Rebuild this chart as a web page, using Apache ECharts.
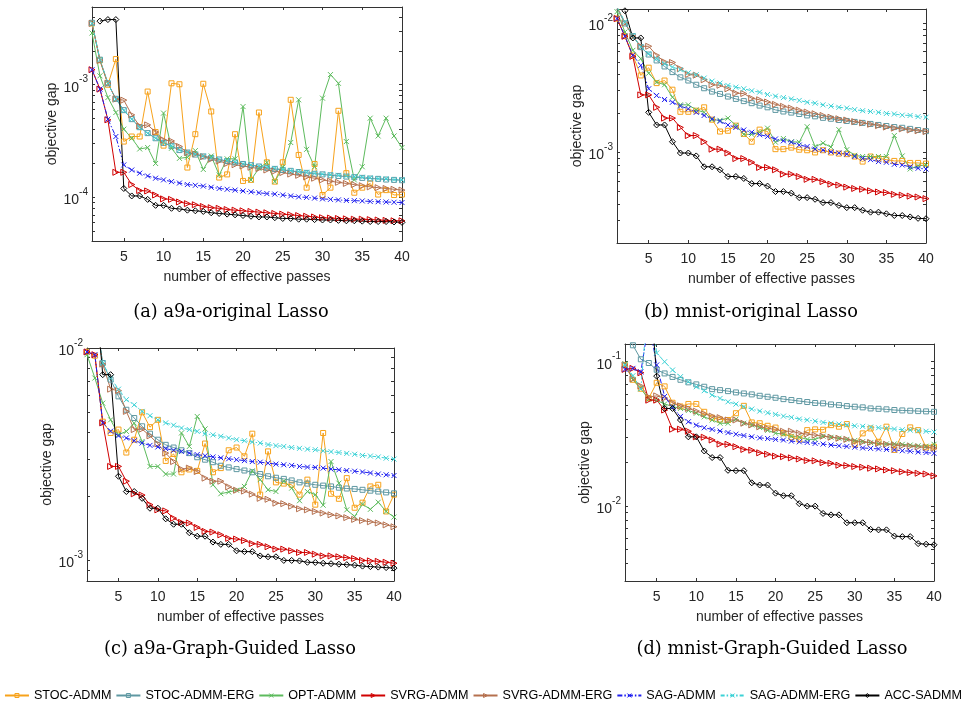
<!DOCTYPE html>
<html><head><meta charset="utf-8">
<script src="https://cdn.jsdelivr.net/npm/echarts@6/dist/echarts.min.js"></script>
<style>html,body{margin:0;padding:0;background:#fff}#c{width:966px;height:704px}</style>
</head><body><div id="c"></div><script>
const passes = [1,2,3,4,5,6,7,8,9,10,11,12,13,14,15,16,17,18,19,20,21,22,23,24,25,26,27,28,29,30,31,32,33,34,35,36,37,38,39,40];
const methodNames = ['STOC-ADMM','STOC-ADMM-ERG','OPT-ADMM','SVRG-ADMM','SVRG-ADMM-ERG','SAG-ADMM','SAG-ADMM-ERG','ACC-SADMM'];
const xTickValues = [5,10,15,20,25,30,35,40];
const captionTexts = ['(a) a9a-original Lasso','(b) mnist-original Lasso','(c) a9a-Graph-Guided Lasso','(d) mnist-Graph-Guided Lasso'];

// (a) a9a-original Lasso
const aYTicks = [5e-5,6e-5,7e-5,8e-5,9e-5,1e-4,2e-4,3e-4,4e-4,5e-4,6e-4,7e-4,8e-4,9e-4,1e-3,2e-3,3e-3,4e-3];
const aYLabels = [1e-4,1e-3];
const aSTOC = [3.5e-3,1.65e-3,1.0e-3,1.69e-3,3.13e-4,3.47e-4,3.47e-4,8.7e-4,3.8e-4,2.88e-4,1.03e-3,1.01e-3,1.84e-4,3.64e-4,1.02e-3,5.79e-4,1.5e-4,1.6e-4,3.64e-4,1.4e-4,1.43e-4,5.67e-4,2.05e-4,1.38e-4,2.05e-4,7.35e-4,2.38e-4,1.22e-4,1.98e-4,1.05e-4,1.22e-4,5.87e-4,1.64e-4,1.1e-4,1.22e-4,1.33e-4,1.06e-4,1.16e-4,1.05e-4,1.06e-4];
const aSTOCERG = [3.55e-3,1.67e-3,1.03e-3,7.5e-4,5.95e-4,4.95e-4,4.2e-4,3.72e-4,3.35e-4,3.05e-4,2.85e-4,2.63e-4,2.5e-4,2.4e-4,2.31e-4,2.24e-4,2.17e-4,2.1e-4,2.04e-4,1.98e-4,1.93e-4,1.88e-4,1.83e-4,1.79e-4,1.75e-4,1.72e-4,1.68e-4,1.65e-4,1.62e-4,1.6e-4,1.57e-4,1.55e-4,1.53e-4,1.51e-4,1.49e-4,1.47e-4,1.46e-4,1.44e-4,1.43e-4,1.42e-4];
const aOPT = [2.88e-3,1.2e-3,7.7e-4,5.67e-4,4.03e-4,3.35e-4,2.69e-4,2.77e-4,2.0e-4,5.6e-4,2.73e-4,2.22e-4,2.27e-4,2.6e-4,1.77e-4,2.33e-4,1.58e-4,2.2e-4,2.2e-4,6.4e-4,1.43e-4,1.81e-4,2.04e-4,1.38e-4,1.85e-4,3.07e-4,7.35e-4,2.67e-4,1.87e-4,7.6e-4,1.23e-3,1.03e-3,3.13e-4,1.43e-4,1.87e-4,5.05e-4,3.51e-4,5.05e-4,3.51e-4,2.77e-4];
const aSVRG = [1.36e-3,9.15e-4,4.88e-4,1.67e-4,1.67e-4,1.3e-4,1.15e-4,1.14e-4,1.05e-4,9.7e-5,9.6e-5,9.1e-5,8.8e-5,8.6e-5,8.3e-5,8.1e-5,8.0e-5,7.8e-5,7.7e-5,7.6e-5,7.5e-5,7.4e-5,7.3e-5,7.2e-5,7.1e-5,7.0e-5,6.9e-5,6.8e-5,6.7e-5,6.6e-5,6.55e-5,6.5e-5,6.45e-5,6.4e-5,6.4e-5,6.35e-5,6.3e-5,6.25e-5,6.2e-5,6.2e-5];
const aSVRGERG = [3.5e-3,1.64e-3,1.03e-3,7.45e-4,7.3e-4,5.4e-4,4.3e-4,4.4e-4,3.8e-4,3.24e-4,3.17e-4,2.83e-4,2.5e-4,2.43e-4,2.3e-4,2.18e-4,2.1e-4,2.0e-4,1.95e-4,1.9e-4,1.85e-4,1.8e-4,1.75e-4,1.71e-4,1.66e-4,1.61e-4,1.57e-4,1.52e-4,1.48e-4,1.43e-4,1.39e-4,1.36e-4,1.33e-4,1.3e-4,1.27e-4,1.24e-4,1.22e-4,1.2e-4,1.18e-4,1.16e-4];
const aSAG = [1.36e-3,9.15e-4,4.95e-4,3.47e-4,1.94e-4,1.75e-4,1.64e-4,1.55e-4,1.48e-4,1.43e-4,1.38e-4,1.34e-4,1.3e-4,1.28e-4,1.26e-4,1.23e-4,1.2e-4,1.18e-4,1.16e-4,1.14e-4,1.12e-4,1.1e-4,1.08e-4,1.07e-4,1.05e-4,1.03e-4,1.01e-4,1.0e-4,9.85e-5,9.7e-5,9.6e-5,9.5e-5,9.4e-5,9.35e-5,9.3e-5,9.2e-5,9.15e-5,9.1e-5,9.05e-5,9.0e-5];
const aSAGERG = [3.5e-3,1.67e-3,1.03e-3,7.45e-4,5.9e-4,4.95e-4,4.17e-4,3.7e-4,3.35e-4,3.07e-4,2.87e-4,2.64e-4,2.52e-4,2.42e-4,2.33e-4,2.25e-4,2.18e-4,2.12e-4,2.05e-4,1.99e-4,1.94e-4,1.89e-4,1.85e-4,1.81e-4,1.77e-4,1.73e-4,1.7e-4,1.67e-4,1.64e-4,1.61e-4,1.59e-4,1.57e-4,1.55e-4,1.53e-4,1.51e-4,1.49e-4,1.47e-4,1.46e-4,1.44e-4,1.43e-4];
const aACC = [null,3.67e-3,3.79e-3,3.79e-3,1.2e-4,1.03e-4,1.03e-4,9.6e-5,8.5e-5,8.5e-5,8.0e-5,7.9e-5,7.7e-5,7.6e-5,7.5e-5,7.3e-5,7.2e-5,7.1e-5,7.0e-5,6.9e-5,6.8e-5,6.7e-5,6.7e-5,6.6e-5,6.5e-5,6.5e-5,6.4e-5,6.4e-5,6.35e-5,6.3e-5,6.3e-5,6.25e-5,6.2e-5,6.2e-5,6.15e-5,6.1e-5,6.1e-5,6.1e-5,6.05e-5,6.0e-5];

// (b) mnist-original Lasso
const bYTicks = [3e-4,4e-4,5e-4,6e-4,7e-4,8e-4,9e-4,1e-3,2e-3,3e-3,4e-3,5e-3,6e-3,7e-3,8e-3,9e-3,1e-2];
const bYLabels = [1e-3,1e-2];
const bSTOC = [1.08e-2,7.9e-3,5.6e-3,3.93e-3,4.51e-3,3.43e-3,3.59e-3,3.05e-3,2.06e-3,2.06e-3,2.1e-3,2.23e-3,1.79e-3,1.45e-3,1.47e-3,1.61e-3,1.39e-3,1.21e-3,1.5e-3,1.45e-3,1.06e-3,1.06e-3,1.09e-3,1.05e-3,1.04e-3,1.0e-3,1.04e-3,1.0e-3,9.8e-4,9.7e-4,9.3e-4,8.5e-4,9.3e-4,9.0e-4,8.8e-4,8.6e-4,8.6e-4,8.3e-4,8.3e-4,8.2e-4];
const bSTOCERG = [1.3e-2,9.9e-3,7.9e-3,6.5e-3,5.7e-3,5.13e-3,4.61e-3,4.17e-3,3.8e-3,3.59e-3,3.33e-3,3.13e-3,2.95e-3,2.83e-3,2.7e-3,2.59e-3,2.49e-3,2.4e-3,2.3e-3,2.23e-3,2.13e-3,2.07e-3,2.03e-3,1.98e-3,1.93e-3,1.9e-3,1.85e-3,1.82e-3,1.78e-3,1.75e-3,1.72e-3,1.69e-3,1.66e-3,1.63e-3,1.6e-3,1.57e-3,1.55e-3,1.52e-3,1.49e-3,1.46e-3];
const bOPT = [1.22e-2,8.5e-3,6.14e-3,5.29e-3,4.09e-3,3.49e-3,3.33e-3,2.67e-3,2.33e-3,2.33e-3,2.13e-3,2.04e-3,1.79e-3,1.77e-3,1.84e-3,1.62e-3,1.38e-3,1.38e-3,1.43e-3,1.54e-3,1.2e-3,1.28e-3,1.21e-3,1.2e-3,1.58e-3,1.11e-3,1.18e-3,1.1e-3,1.5e-3,1.05e-3,9.5e-4,9.3e-4,9.3e-4,9.3e-4,9.3e-4,1.35e-3,9.4e-4,7.45e-4,7.9e-4,8.0e-4];
const bSVRG = [1.08e-2,7.88e-3,5.52e-3,2.78e-3,2.78e-3,2.23e-3,1.84e-3,1.84e-3,1.56e-3,1.35e-3,1.35e-3,1.21e-3,1.06e-3,1.06e-3,9.9e-4,8.97e-4,8.97e-4,8.4e-4,7.66e-4,7.66e-4,7.35e-4,6.8e-4,6.8e-4,6.52e-4,6.2e-4,6.2e-4,5.96e-4,5.69e-4,5.6e-4,5.4e-4,5.27e-4,5.2e-4,5.06e-4,4.95e-4,4.9e-4,4.75e-4,4.68e-4,4.6e-4,4.53e-4,4.4e-4];
const bSVRGERG = [1.33e-2,1.0e-2,7.9e-3,6.6e-3,6.6e-3,5.62e-3,5.0e-3,4.95e-3,4.43e-3,4.0e-3,3.95e-3,3.64e-3,3.33e-3,3.3e-3,3.1e-3,2.87e-3,2.85e-3,2.62e-3,2.55e-3,2.45e-3,2.35e-3,2.27e-3,2.2e-3,2.12e-3,2.05e-3,1.99e-3,1.93e-3,1.87e-3,1.82e-3,1.78e-3,1.73e-3,1.69e-3,1.65e-3,1.61e-3,1.57e-3,1.54e-3,1.52e-3,1.49e-3,1.47e-3,1.45e-3];
const bSAG = [1.08e-2,7.88e-3,5.62e-3,4.7e-3,3.1e-3,2.75e-3,2.56e-3,2.44e-3,2.28e-3,2.17e-3,2.04e-3,1.93e-3,1.82e-3,1.74e-3,1.63e-3,1.56e-3,1.49e-3,1.43e-3,1.37e-3,1.33e-3,1.27e-3,1.23e-3,1.2e-3,1.14e-3,1.11e-3,1.06e-3,1.04e-3,1.01e-3,9.9e-4,9.7e-4,9.3e-4,9.0e-4,8.8e-4,8.5e-4,8.4e-4,8.1e-4,8.0e-4,7.75e-4,7.55e-4,7.45e-4];
const bSAGERG = [1.33e-2,1.02e-2,8.0e-3,6.52e-3,5.78e-3,5.29e-3,4.84e-3,4.56e-3,4.35e-3,4.12e-3,3.98e-3,3.75e-3,3.55e-3,3.43e-3,3.29e-3,3.19e-3,3.1e-3,2.99e-3,2.92e-3,2.8e-3,2.72e-3,2.65e-3,2.59e-3,2.52e-3,2.44e-3,2.4e-3,2.33e-3,2.28e-3,2.23e-3,2.2e-3,2.14e-3,2.1e-3,2.07e-3,2.04e-3,2.0e-3,1.98e-3,1.94e-3,1.93e-3,1.89e-3,1.87e-3];
const bACC = [null,1.24e-2,7.65e-3,7.65e-3,2.04e-3,1.63e-3,1.63e-3,1.21e-3,9.9e-4,9.9e-4,9.4e-4,7.75e-4,7.75e-4,7.35e-4,6.52e-4,6.52e-4,6.3e-4,5.75e-4,5.75e-4,5.5e-4,4.99e-4,4.99e-4,4.85e-4,4.48e-4,4.48e-4,4.35e-4,4.1e-4,4.1e-4,3.9e-4,3.75e-4,3.75e-4,3.58e-4,3.46e-4,3.46e-4,3.36e-4,3.26e-4,3.26e-4,3.18e-4,3.1e-4,3.08e-4];

// (c) a9a-Graph-Guided Lasso
const cYTicks = [9e-4,1e-3,2e-3,3e-3,4e-3,5e-3,6e-3,7e-3,8e-3,9e-3,1e-2];
const cYLabels = [1e-3,1e-2];
const cSTOC = [9.6e-3,9.2e-3,4.5e-3,3.98e-3,4.13e-3,3.22e-3,3.7e-3,4.98e-3,4.24e-3,4.59e-3,2.94e-3,3.17e-3,2.6e-3,2.68e-3,2.64e-3,3.55e-3,2.6e-3,2.72e-3,3.3e-3,3.4e-3,3.09e-3,3.95e-3,2.04e-3,3.26e-3,2.33e-3,2.3e-3,2.27e-3,2.04e-3,2.4e-3,1.83e-3,3.98e-3,2.06e-3,1.95e-3,2.44e-3,1.77e-3,1.87e-3,2.23e-3,2.27e-3,1.7e-3,2.04e-3];
const cSTOCERG = [2e-2,1.45e-2,8.5e-3,7.1e-3,5.92e-3,5.12e-3,4.68e-3,4.28e-3,3.95e-3,3.7e-3,3.5e-3,3.4e-3,3.3e-3,3.2e-3,3.06e-3,2.98e-3,2.9e-3,2.79e-3,2.74e-3,2.69e-3,2.65e-3,2.6e-3,2.55e-3,2.49e-3,2.45e-3,2.42e-3,2.38e-3,2.33e-3,2.3e-3,2.27e-3,2.25e-3,2.23e-3,2.2e-3,2.18e-3,2.17e-3,2.15e-3,2.13e-3,2.11e-3,2.09e-3,2.07e-3];
const cOPT = [9.3e-3,7.22e-3,5.5e-3,4.59e-3,3.91e-3,4.05e-3,4.43e-3,3.63e-3,2.77e-3,2.77e-3,2.55e-3,2.55e-3,3.98e-3,3.44e-3,4.76e-3,4.16e-3,2.27e-3,2.06e-3,2.1e-3,2.14e-3,2.23e-3,2.64e-3,2.4e-3,2.15e-3,2.11e-3,2.36e-3,2.19e-3,1.91e-3,2.11e-3,2.04e-3,1.82e-3,2.92e-3,2.31e-3,1.73e-3,1.61e-3,1.84e-3,1.74e-3,1.88e-3,1.7e-3,1.6e-3];
const cSVRG = [9.58e-3,9.3e-3,4.44e-3,2.77e-3,2.77e-3,2.36e-3,2.06e-3,2.03e-3,1.83e-3,1.73e-3,1.71e-3,1.58e-3,1.51e-3,1.5e-3,1.43e-3,1.37e-3,1.36e-3,1.32e-3,1.27e-3,1.26e-3,1.24e-3,1.2e-3,1.19e-3,1.16e-3,1.13e-3,1.13e-3,1.11e-3,1.09e-3,1.09e-3,1.07e-3,1.05e-3,1.05e-3,1.04e-3,1.03e-3,1.02e-3,1.0e-3,9.95e-4,9.9e-4,9.8e-4,9.7e-4];
const cSVRGERG = [2e-2,1.45e-2,8.4e-3,6.4e-3,6.3e-3,5.03e-3,4.13e-3,4.15e-3,3.86e-3,3.54e-3,3.2e-3,2.92e-3,2.69e-3,2.72e-3,2.62e-3,2.44e-3,2.36e-3,2.36e-3,2.22e-3,2.14e-3,2.12e-3,2.05e-3,1.96e-3,1.94e-3,1.86e-3,1.85e-3,1.8e-3,1.75e-3,1.73e-3,1.7e-3,1.67e-3,1.64e-3,1.62e-3,1.59e-3,1.56e-3,1.54e-3,1.52e-3,1.5e-3,1.47e-3,1.44e-3];
const cSAG = [9.58e-3,9.3e-3,4.44e-3,4.06e-3,3.86e-3,3.77e-3,3.66e-3,3.57e-3,3.48e-3,3.42e-3,3.36e-3,3.3e-3,3.26e-3,3.2e-3,3.15e-3,3.11e-3,3.07e-3,3.04e-3,3.01e-3,2.98e-3,2.95e-3,2.92e-3,2.9e-3,2.87e-3,2.84e-3,2.82e-3,2.8e-3,2.77e-3,2.75e-3,2.74e-3,2.72e-3,2.69e-3,2.67e-3,2.65e-3,2.63e-3,2.61e-3,2.58e-3,2.55e-3,2.53e-3,2.51e-3];
const cSAGERG = [2e-2,1.45e-2,8.5e-3,7.22e-3,6.4e-3,5.71e-3,5.4e-3,5.03e-3,4.8e-3,4.59e-3,4.44e-3,4.33e-3,4.2e-3,4.13e-3,4.05e-3,3.95e-3,3.9e-3,3.84e-3,3.77e-3,3.7e-3,3.66e-3,3.61e-3,3.57e-3,3.51e-3,3.47e-3,3.44e-3,3.4e-3,3.37e-3,3.34e-3,3.32e-3,3.28e-3,3.25e-3,3.22e-3,3.19e-3,3.16e-3,3.12e-3,3.1e-3,3.07e-3,3.03e-3,3.0e-3];
const cACC = [null,2e-2,7.49e-3,7.49e-3,2.49e-3,2.11e-3,2.11e-3,1.96e-3,1.76e-3,1.76e-3,1.57e-3,1.48e-3,1.48e-3,1.35e-3,1.3e-3,1.3e-3,1.22e-3,1.19e-3,1.19e-3,1.11e-3,1.1e-3,1.1e-3,1.05e-3,1.04e-3,1.04e-3,1.0e-3,1.0e-3,9.95e-4,9.8e-4,9.78e-4,9.7e-4,9.65e-4,9.6e-4,9.55e-4,9.5e-4,9.4e-4,9.35e-4,9.3e-4,9.25e-4,9.2e-4];

// (d) mnist-Graph-Guided Lasso
const dYTicks = [4e-3,5e-3,6e-3,7e-3,8e-3,9e-3,1e-2,2e-2,3e-2,4e-2,5e-2,6e-2,7e-2,8e-2,9e-2,1e-1];
const dYLabels = [1e-2,1e-1];
const dSTOC = [9.5e-2,7.5e-2,6.5e-2,5.6e-2,7.15e-2,6.75e-2,5.2e-2,4.9e-2,5.1e-2,5.1e-2,4.5e-2,4.1e-2,3.98e-2,3.95e-2,4.4e-2,4.95e-2,3.8e-2,3.75e-2,3.6e-2,3.5e-2,3.2e-2,3.0e-2,2.9e-2,3.36e-2,3.4e-2,3.38e-2,3.64e-2,3.55e-2,3.7e-2,2.68e-2,3.19e-2,3.45e-2,2.79e-2,3.55e-2,2.45e-2,3.16e-2,3.51e-2,3.36e-2,2.55e-2,2.58e-2];
const dSTOCERG = [0.16,0.13,0.104,9.8e-2,8.8e-2,8.3e-2,7.85e-2,7.5e-2,7.2e-2,6.97e-2,6.71e-2,6.46e-2,6.36e-2,6.26e-2,6.13e-2,6.03e-2,5.94e-2,5.81e-2,5.72e-2,5.63e-2,5.51e-2,5.43e-2,5.34e-2,5.26e-2,5.18e-2,5.15e-2,5.06e-2,5.01e-2,4.93e-2,4.88e-2,4.83e-2,4.75e-2,4.72e-2,4.68e-2,4.63e-2,4.6e-2,4.58e-2,4.55e-2,4.53e-2,4.5e-2];
const dOPT = [9.7e-2,7.5e-2,6.5e-2,5.5e-2,5.4e-2,5.1e-2,4.9e-2,4.75e-2,4.6e-2,4.4e-2,4.15e-2,3.95e-2,3.75e-2,3.75e-2,4.0e-2,3.75e-2,3.65e-2,3.5e-2,3.35e-2,3.2e-2,3.15e-2,3.05e-2,3.0e-2,2.9e-2,2.9e-2,3.05e-2,3.0e-2,2.95e-2,2.9e-2,2.85e-2,2.8e-2,2.75e-2,2.7e-2,2.7e-2,2.7e-2,2.68e-2,2.65e-2,2.62e-2,2.6e-2,2.68e-2];
const dSVRG = [8.85e-2,8.99e-2,8.39e-2,5.42e-2,5.42e-2,4.63e-2,3.41e-2,3.41e-2,3.3e-2,3.02e-2,3.0e-2,2.87e-2,2.69e-2,2.68e-2,2.58e-2,2.47e-2,2.44e-2,2.34e-2,2.29e-2,2.22e-2,2.2e-2,2.16e-2,2.12e-2,2.07e-2,2.06e-2,2.0e-2,1.98e-2,1.92e-2,1.91e-2,1.88e-2,1.86e-2,1.83e-2,1.81e-2,1.78e-2,1.76e-2,1.73e-2,1.71e-2,1.69e-2,1.67e-2,1.62e-2];
const dSVRGERG = [9.5e-2,7.6e-2,6.8e-2,5.7e-2,5.8e-2,5.6e-2,5.2e-2,4.95e-2,4.75e-2,4.55e-2,4.35e-2,4.2e-2,4.1e-2,3.95e-2,3.95e-2,3.75e-2,3.65e-2,3.55e-2,3.45e-2,3.4e-2,3.3e-2,3.3e-2,3.2e-2,3.15e-2,3.1e-2,3.05e-2,3.0e-2,2.95e-2,2.9e-2,2.8e-2,2.78e-2,2.76e-2,2.72e-2,2.68e-2,2.65e-2,2.62e-2,2.6e-2,2.57e-2,2.55e-2,2.52e-2];
const dSAG = [8.85e-2,9.0e-2,8.5e-2,0.19,9.5e-2,5.75e-2,4.85e-2,4.18e-2,3.84e-2,3.64e-2,3.49e-2,3.4e-2,3.31e-2,3.23e-2,3.15e-2,3.08e-2,3.02e-2,2.97e-2,2.94e-2,2.9e-2,2.87e-2,2.82e-2,2.79e-2,2.76e-2,2.72e-2,2.69e-2,2.65e-2,2.62e-2,2.59e-2,2.56e-2,2.53e-2,2.51e-2,2.49e-2,2.47e-2,2.45e-2,2.42e-2,2.4e-2,2.37e-2,2.35e-2,2.32e-2];
const dSAGERG = [9.5e-2,8.0e-2,6.5e-2,0.3,0.115,0.1,8.76e-2,7.88e-2,7.27e-2,6.71e-2,6.3e-2,5.88e-2,5.57e-2,5.28e-2,5.09e-2,4.88e-2,4.7e-2,4.55e-2,4.43e-2,4.32e-2,4.2e-2,4.12e-2,4.01e-2,3.95e-2,3.88e-2,3.8e-2,3.75e-2,3.7e-2,3.65e-2,3.6e-2,3.57e-2,3.53e-2,3.49e-2,3.45e-2,3.42e-2,3.38e-2,3.36e-2,3.33e-2,3.3e-2,3.26e-2];
const dACC = [null,null,null,0.4,7.95e-2,4.75e-2,4.75e-2,3.95e-2,3.02e-2,3.02e-2,2.41e-2,2.17e-2,2.17e-2,1.77e-2,1.76e-2,1.76e-2,1.45e-2,1.4e-2,1.4e-2,1.23e-2,1.18e-2,1.18e-2,1.04e-2,1.0e-2,1.0e-2,8.9e-3,8.7e-3,8.7e-3,7.67e-3,7.67e-3,7.67e-3,6.9e-3,6.85e-3,6.85e-3,6.2e-3,6.15e-3,6.15e-3,5.5e-3,5.45e-3,5.4e-3];

const X_MARK = 'path://M0,0L10,10M10,0L0,10';
const seriesStyles = [
  {color:'#F7A21B', symbol:'rect', size:5, dash:'solid'},
  {color:'#5F98A2', symbol:'rect', size:5, dash:'solid'},
  {color:'#5DBB5D', symbol:X_MARK, size:5, dash:'solid'},
  {color:'#D00000', symbol:'triangle', rotate:-90, size:6, dash:'solid'},
  {color:'#B5704E', symbol:'triangle', rotate:-90, size:6, dash:'solid'},
  {color:'#1E1EF0', symbol:X_MARK, size:5, dash:[5,2,1.5,2]},
  {color:'#3CD2D6', symbol:X_MARK, size:5, dash:[4,2,1.5,2]},
  {color:'#000000', symbol:'diamond', size:6, dash:'solid'}
];

const panels = [
  {grid:{left:92, top:7, width:310, height:234}, yMin:4.1e-5, yMax:4.9e-3, yTicks:aYTicks, yLabels:aYLabels,
   data:[aSTOC,aSTOCERG,aOPT,aSVRG,aSVRGERG,aSAG,aSAGERG,aACC], cap:{x:231, y:312}},
  {grid:{left:617, top:9, width:309, height:234}, yMin:2.0e-4, yMax:1.28e-2, yTicks:bYTicks, yLabels:bYLabels,
   data:[bSTOC,bSTOCERG,bOPT,bSVRG,bSVRGERG,bSAG,bSAGERG,bACC], cap:{x:751, y:312}},
  {grid:{left:87, top:348, width:307, height:233}, yMin:8.0e-4, yMax:1.0e-2, yTicks:cYTicks, yLabels:cYLabels,
   data:[cSTOC,cSTOCERG,cOPT,cSVRG,cSVRGERG,cSAG,cSAGERG,cACC], cap:{x:230, y:649}},
  {grid:{left:625, top:344, width:309, height:237}, yMin:3.03e-3, yMax:0.1327, yTicks:dYTicks, yLabels:dYLabels,
   data:[dSTOC,dSTOCERG,dOPT,dSVRG,dSVRGERG,dSAG,dSAGERG,dACC], cap:{x:772, y:649}}
];

const axisColor = '#333333';
const textColor = '#262626';
const FONT = '"Liberation Sans", Arial, sans-serif';

const grids = [], xAxes = [], yAxes = [], series = [], graphics = [];
panels.forEach((p, gi) => {
  grids.push(p.grid);
  const tickBase = {show:true, inside:true, length:3, lineStyle:{color:axisColor, width:1}};
  xAxes.push({type:'value', gridIndex:gi, min:1, max:40, position:'bottom',
    axisLine:{show:true, onZero:false, lineStyle:{color:axisColor, width:1}},
    axisTick:Object.assign({customValues:xTickValues}, tickBase),
    axisLabel:{customValues:xTickValues, color:textColor, fontSize:14, fontFamily:FONT, margin:9},
    splitLine:{show:false},
    name:'number of effective passes', nameLocation:'middle', nameGap:29,
    nameTextStyle:{color:textColor, fontSize:14, fontFamily:FONT}});
  xAxes.push({type:'value', gridIndex:gi, min:1, max:40, position:'top',
    axisLine:{show:true, onZero:false, lineStyle:{color:axisColor, width:1}},
    axisTick:Object.assign({customValues:xTickValues}, tickBase),
    axisLabel:{show:false}, splitLine:{show:false}});
  yAxes.push({type:'log', gridIndex:gi, min:p.yMin, max:p.yMax, position:'left',
    axisLine:{show:true, onZero:false, lineStyle:{color:axisColor, width:1}},
    axisTick:Object.assign({customValues:p.yTicks}, tickBase),
    axisLabel:{customValues:p.yLabels, color:textColor, margin:4,
      formatter: v => '{b|10}{s|' + Math.round(Math.log10(v)) + '}',
      rich:{b:{fontSize:14, fontFamily:FONT, color:textColor, verticalAlign:'bottom', lineHeight:20},
            s:{fontSize:10, fontFamily:FONT, color:textColor, verticalAlign:'top', lineHeight:10}}},
    splitLine:{show:false},
    name:'objective gap', nameLocation:'middle', nameGap:27,
    nameTextStyle:{color:textColor, fontSize:14, fontFamily:FONT}});
  yAxes.push({type:'log', gridIndex:gi, min:p.yMin, max:p.yMax, position:'right',
    axisLine:{show:true, onZero:false, lineStyle:{color:axisColor, width:1}},
    axisTick:Object.assign({customValues:p.yTicks}, tickBase),
    axisLabel:{show:false}, splitLine:{show:false}});
  methodNames.forEach((name, k) => {
    const st = seriesStyles[k];
    series.push({type:'line', name:name, xAxisIndex:gi*2, yAxisIndex:gi*2,
      data: passes.map((x, i) => [x, p.data[k][i] == null ? '-' : p.data[k][i]]),
      symbol:st.symbol, symbolSize:st.size, symbolRotate:st.rotate || 0,
      showSymbol:true, showAllSymbol:true, clip:true, connectNulls:false,
      lineStyle:{color:st.color, width:1, type:st.dash},
      itemStyle:{color:'rgba(255,255,255,0)', borderColor:st.color, borderWidth:1},
      emphasis:{disabled:true}, animation:false});
  });
  graphics.push({type:'text', x:p.cap.x, y:p.cap.y,
    style:{text:captionTexts[gi], align:'center', verticalAlign:'middle',
      fontSize:17.8, fontFamily:'"DejaVu Serif", serif', fill:'#000'}});
});

const chart = echarts.init(document.getElementById('c'), null, {renderer:'canvas'});
chart.setOption({
  backgroundColor:'#ffffff',
  animation:false,
  grid:grids, xAxis:xAxes, yAxis:yAxes, series:series,
  graphic:graphics,
  legend:{data:methodNames, left:'center', top:689, padding:0, itemWidth:24, itemHeight:5, itemGap:4,
    itemStyle:{color:'rgba(255,255,255,0)', borderWidth:1},
    textStyle:{color:'#000', fontSize:12.6, fontFamily:FONT}}
});
</script></body></html>
